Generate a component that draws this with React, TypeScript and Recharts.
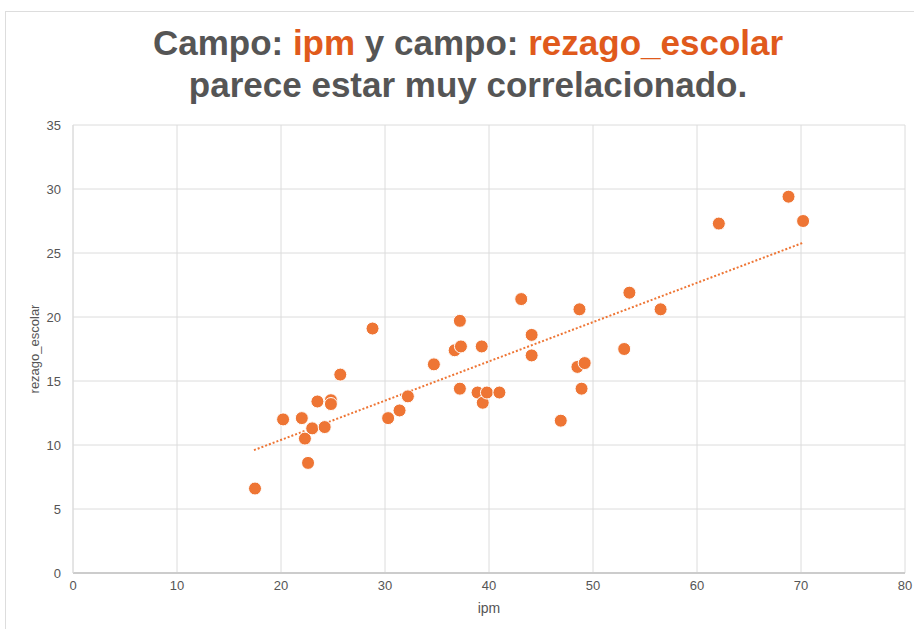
import React from 'react';
import { ScatterChart, Scatter, XAxis, YAxis, CartesianGrid, ReferenceLine } from 'recharts';

const ipm = [
  17.5, 20.2, 22.0, 22.3, 22.6, 23.0, 23.5, 24.2, 24.8, 24.8,
  25.7, 28.8, 30.3, 31.4, 32.2, 34.7, 36.7, 37.2, 37.3, 37.2,
  38.9, 39.4, 39.3, 39.8, 41.0, 43.1, 44.1, 44.1, 46.9, 48.5,
  48.7, 48.9, 49.2, 53.0, 53.5, 56.5, 62.1, 68.8, 70.2,
];
const rezagoEscolar = [
  6.6, 12.0, 12.1, 10.5, 8.6, 11.3, 13.4, 11.4, 13.5, 13.2,
  15.5, 19.1, 12.1, 12.7, 13.8, 16.3, 17.4, 19.7, 17.7, 14.4,
  14.1, 13.3, 17.7, 14.1, 14.1, 21.4, 18.6, 17.0, 11.9, 16.1,
  20.6, 14.4, 16.4, 17.5, 21.9, 20.6, 27.3, 29.4, 27.5,
];
// trend line end points
const trendX = [17.4, 70.2];
const trendY = [9.6, 25.8];

const xTicks = [0, 10, 20, 30, 40, 50, 60, 70, 80];
const yTicks = [0, 5, 10, 15, 20, 25, 30, 35];

const ORANGE = '#ee7534';
const TITLE_ORANGE = '#e05a1c';
const GREY_TEXT = '#555555';

const points = ipm.map((x, i) => ({ ipm: x, rezago: rezagoEscolar[i] }));

const Dot = (props: any) => (
  <circle cx={props.cx} cy={props.cy} r={6.5} fill={ORANGE} stroke="#ffffff" strokeWidth={1} />
);

export default function App() {
  return (
    <div style={{ position: 'absolute', left: 0, top: 0, width: 914, height: 629, background: '#fff', fontFamily: '"Liberation Sans", Arial, sans-serif' }}>
      {/* card frame (only left and top edges are visible) */}
      <div style={{ position: 'absolute', left: 5, top: 11, width: 908, height: 617, borderLeft: '1px solid #dddddd', borderTop: '1px solid #dddddd' }} />

      {/* title */}
      <div style={{ position: 'absolute', left: 0, top: 22, width: 936, textAlign: 'center', fontWeight: 'bold', fontSize: 35, lineHeight: '42px', color: GREY_TEXT }}>
        <div>
          Campo: <span style={{ color: TITLE_ORANGE }}>ipm</span> y campo: <span style={{ color: TITLE_ORANGE }}>rezago_escolar</span>
        </div>
        <div>parece estar muy correlacionado.</div>
      </div>

      <div style={{ position: 'absolute', left: 0, top: 0 }}>
        <ScatterChart width={914} height={629} margin={{ top: 125, right: 9, bottom: 16, left: 13 }}>
          <CartesianGrid stroke="#dcdcdc" strokeWidth={1} />
          <XAxis
            type="number"
            dataKey="ipm"
            domain={[0, 80]}
            ticks={xTicks}
            interval={0}
            tickLine={false}
            axisLine={{ stroke: '#cccccc', strokeWidth: 2 }}
            tick={{ fill: GREY_TEXT, fontSize: 13 }}
            height={40}
            label={{ value: 'ipm', position: 'insideBottom', offset: 0, fill: GREY_TEXT, fontSize: 14 }}
          />
          <YAxis
            type="number"
            dataKey="rezago"
            domain={[0, 35]}
            ticks={yTicks}
            interval={0}
            tickLine={false}
            axisLine={{ stroke: '#dcdcdc' }}
            tick={{ fill: GREY_TEXT, fontSize: 13 }}
            tickMargin={6}
            width={60}
            label={{ value: 'rezago_escolar', angle: -90, position: 'insideLeft', offset: 21, fill: GREY_TEXT, fontSize: 13, style: { textAnchor: 'middle' } }}
          />
          <ReferenceLine
            segment={[{ x: trendX[0], y: trendY[0] }, { x: trendX[1], y: trendY[1] }]}
            stroke={ORANGE}
            strokeWidth={2}
            strokeDasharray="2 2"
          />
          <Scatter data={points} shape={Dot} isAnimationActive={false} />
        </ScatterChart>
      </div>
    </div>
  );
}
